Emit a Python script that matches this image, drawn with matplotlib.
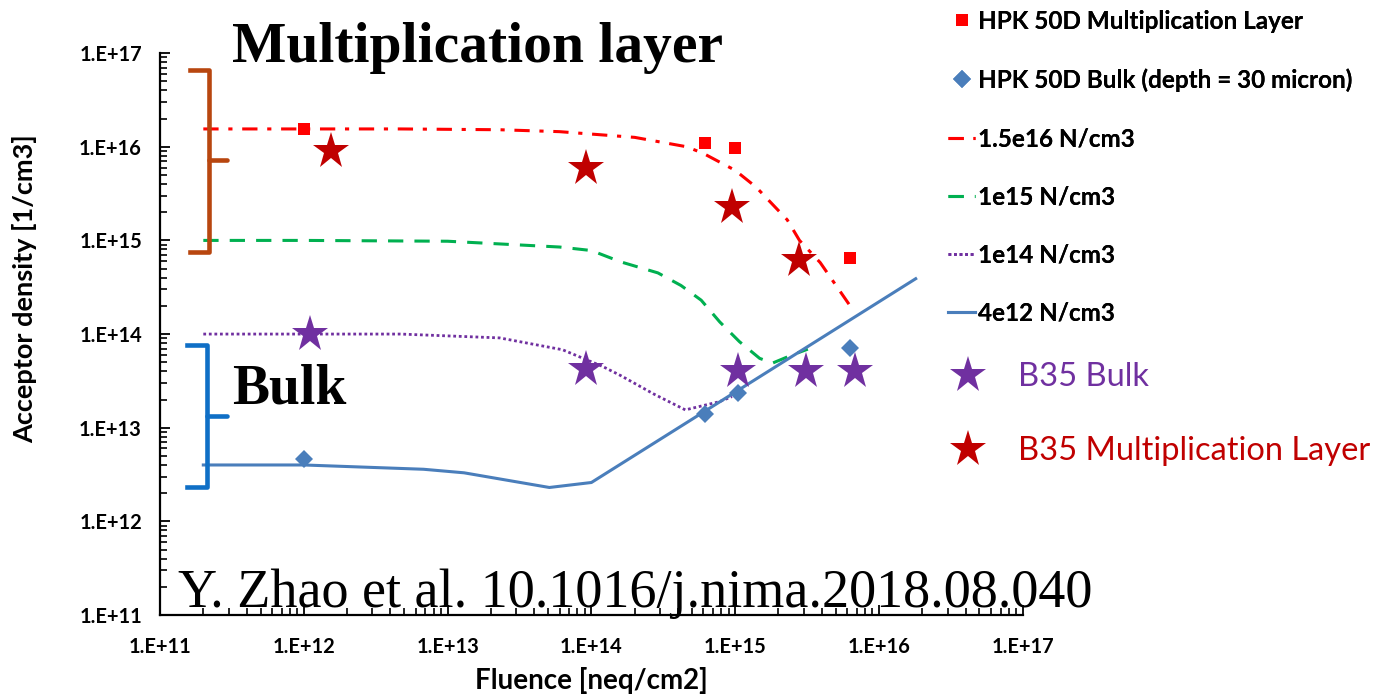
import numpy as np
import matplotlib
matplotlib.use("Agg")
import matplotlib.pyplot as plt
from matplotlib.ticker import LogLocator, NullFormatter

plt.rcParams['font.family'] = ['Lato', 'DejaVu Sans']
plt.rcParams['lines.scale_dashes'] = False

# 축 눈금
tick_vals = [1e11, 1e12, 1e13, 1e14, 1e15, 1e16, 1e17]
tick_labels = ['1.E+11', '1.E+12', '1.E+13', '1.E+14', '1.E+15', '1.E+16', '1.E+17']

# HPK 50D 측정값
hpk_mult_x = [1e12, 6.2e14, 1.0e15, 6.3e15]
hpk_mult_y = [1.55e16, 1.1e16, 9.8e15, 6.5e14]
hpk_bulk_x = [1e12, 6.2e14, 1.05e15, 6.3e15]
hpk_bulk_y = [4.6e12, 1.4e13, 2.35e13, 7.1e13]

# 모델 곡선
m15e16_x = [2e11, 1e12, 4.7e12, 2.3e13, 6e13, 2e14, 4.6e14, 6e14, 1e15, 1.4e15, 2.3e15, 2.8e15, 3.9e15, 6.3e15]
m15e16_y = [1.55e16, 1.55e16, 1.55e16, 1.52e16, 1.45e16, 1.26e16, 1.0e16, 8.5e15, 5.6e15, 3.7e15, 1.66e15, 1.0e15, 5.8e14, 2.0e14]
m1e15_x = [2e11, 1e12, 1e13, 6e13, 1e14, 1.6e14, 2.9e14, 4.2e14, 5.8e14, 7.8e14, 1.07e15, 1.48e15, 1.82e15, 2.5e15, 3.2e15]
m1e15_y = [1e15, 1e15, 9.8e14, 8.5e14, 7.8e14, 5.9e14, 4.5e14, 3.3e14, 2.3e14, 1.35e14, 8.3e13, 5.5e13, 4.9e13, 6.0e13, 6.9e13]
m1e14_x = [2e11, 1e12, 4.7e12, 2.3e13, 6.3e13, 1.2e14, 1.6e14, 2.7e14, 4.5e14, 7.8e14, 9.5e14]
m1e14_y = [1e14, 1e14, 1e14, 9.1e13, 6.8e13, 4.5e13, 3.6e13, 2.3e13, 1.55e13, 1.9e13, 2.15e13]
m4e12_x = [2e11, 1e12, 6.8e12, 1.3e13, 5.1e13, 1e14, 1.8e16]
m4e12_y = [4e12, 4e12, 3.6e12, 3.3e12, 2.3e12, 2.6e12, 3.9e14]

# B35 측정값
b35_bulk_x = [1.1e12, 9.2e13, 1.05e15, 3.1e15, 6.8e15]
b35_bulk_y = [1e14, 4.2e13, 4e13, 4e13, 4e13]
b35_mult_x = [1.55e12, 9.2e13, 9.5e14, 2.8e15]
b35_mult_y = [9.1e15, 6.0e15, 2.3e15, 6.2e14]

fig = plt.figure(figsize=(13.76, 6.98), dpi=100)
ax = fig.add_axes([0.1163, 0.1189, 0.627, 0.805])
ax.set_xscale('log')
ax.set_yscale('log')
ax.set_xlim(1e11, 1e17)
ax.set_ylim(1e11, 1e17)

l1, = ax.plot(m15e16_x, m15e16_y, color='#ff0000', lw=2.2, linestyle=(0, (11, 7, 3, 7)), label='1.5e16 N/cm3')
l2, = ax.plot(m1e15_x, m1e15_y, color='#00b050', lw=2.2, linestyle=(0, (11, 8)), label='1e15 N/cm3')
l3, = ax.plot(m1e14_x, m1e14_y, color='#7030a0', lw=2.0, linestyle=(0, (2, 2)), label='1e14 N/cm3')
l4, = ax.plot(m4e12_x, m4e12_y, color='#4a7ebb', lw=2.2, label='4e12 N/cm3')

p1, = ax.plot(hpk_mult_x, hpk_mult_y, 's', color='#ff0000', ms=8, mew=0, label='HPK 50D Multiplication Layer', zorder=4)
p2, = ax.plot(hpk_bulk_x, hpk_bulk_y, 'D', color='#4a7ebb', ms=9, mew=0, label='HPK 50D Bulk (depth = 30 micron)', zorder=4)
s1, = ax.plot(b35_bulk_x, b35_bulk_y, '*', color='#7030a0', ms=28, mew=0, label='B35 Bulk', zorder=5)
s2, = ax.plot(b35_mult_x, b35_mult_y, '*', color='#c00000', ms=28, mew=0, label='B35 Multiplication Layer', zorder=5)

# 축 모양
for side in ['top', 'right']:
    ax.spines[side].set_visible(False)
for side in ['left', 'bottom']:
    ax.spines[side].set_linewidth(1.6)
ax.set_xticks(tick_vals)
ax.set_xticklabels(tick_labels)
ax.set_yticks(tick_vals)
ax.set_yticklabels(tick_labels)
for axis in [ax.xaxis, ax.yaxis]:
    axis.set_minor_locator(LogLocator(base=10, subs=np.arange(2, 10), numticks=100))
    axis.set_minor_formatter(NullFormatter())
ax.tick_params(which='major', direction='in', length=7, width=1.3, labelsize=14.5)
ax.tick_params(axis='x', which='major', pad=16)
ax.tick_params(axis='y', which='major', pad=13)
ax.tick_params(which='minor', direction='in', length=5, width=1.2)
for lab in ax.get_xticklabels() + ax.get_yticklabels():
    lab.set_fontweight('bold')
ax.set_xlabel('Fluence [neq/cm2]', fontsize=20, fontweight='bold', labelpad=7)
fig.text(0.0178, 0.586, 'Acceptor density [1/cm3]', rotation=90, fontsize=19.5,
         fontweight='bold', ha='center', va='center')

# 중괄호 표시
def brace(x0, xv, xt, top, tip, bot, color):
    ax.plot([x0, xv, xv, x0], [top, top, bot, bot], color=color, lw=3.3,
            transform=ax.transAxes, clip_on=False, solid_joinstyle='round')
    ax.plot([xv, xt], [tip, tip], color=color, lw=3.3, transform=ax.transAxes,
            clip_on=False, solid_capstyle='round')

brace(0.0348, 0.0568, 0.0776, 0.9698, 0.8096, 0.6459, '#b8460f')
brace(0.0313, 0.0545, 0.0776, 0.4804, 0.3541, 0.2278, '#0f6fc6')

serif = ['Liberation Serif', 'DejaVu Serif']
fig.text(0.1686, 0.9112, 'Multiplication layer', family=serif, fontweight='bold',
         fontsize=41.5, ha='left', va='baseline')
fig.text(0.1686, 0.4226, 'Bulk', family=serif, fontweight='bold',
         fontsize=40, ha='left', va='baseline')
fig.text(0.1294, 0.1304, 'Y. Zhao et al. 10.1016/j.nima.2018.08.040', family=serif,
         fontsize=39, ha='left', va='baseline')

# 범례
leg1 = fig.legend(handles=[p1, p2, l1, l2, l3, l4], loc='upper left',
                  bbox_to_anchor=(948 / 1376, 1 - 10 / 698), frameon=False,
                  prop={'weight': 'bold', 'size': 17.5}, handlelength=1.12,
                  handletextpad=0.12, labelspacing=1.45, borderpad=0, borderaxespad=0)
leg2 = fig.legend(handles=[s1, s2], loc='upper left',
                  bbox_to_anchor=(946 / 1376, 1 - 362 / 698), frameon=False,
                  prop={'size': 23.5}, handlelength=1.33, handletextpad=0.87,
                  labelspacing=1.36, borderpad=0, borderaxespad=0,
                  labelcolor=['#7030a0', '#c00000'])
fig.add_artist(leg1)

fig.savefig('out.png', dpi=100)
